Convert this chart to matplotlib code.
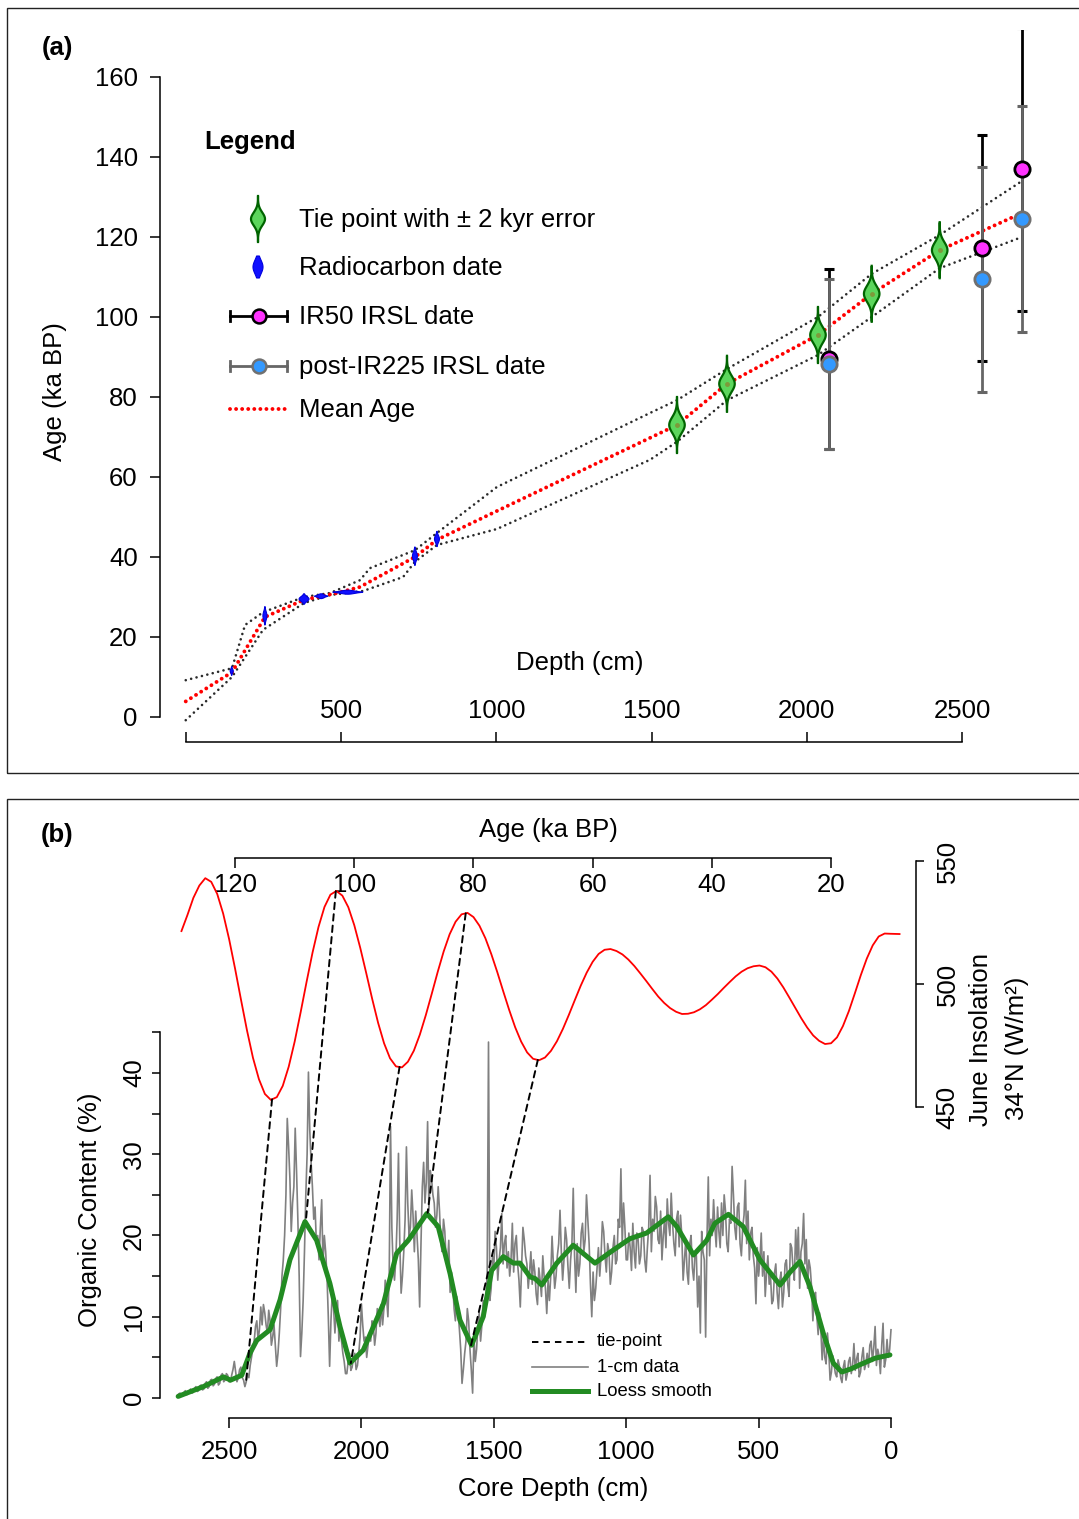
import numpy as np
import matplotlib
matplotlib.use("Agg")
import matplotlib.pyplot as plt
from matplotlib.patches import Polygon, Rectangle, ConnectionPatch
from matplotlib.lines import Line2D

plt.rcParams['font.family'] = ['Liberation Sans', 'DejaVu Sans']

W, H, DPI = 1079, 1519, 100
FS = 18.5

# ---------------- panel (a): age-depth model ----------------
mean_depth = [0, 149, 255, 381, 487, 561, 738, 809, 1002, 1582, 1743, 2036, 2209, 2428, 2693]
mean_age = [3.9, 11.2, 25.0, 29.3, 31.0, 32.5, 40.0, 44.3, 51.5, 73.0, 83.3, 95.5, 105.8, 116.7, 126.0]

upper_depth = [0, 149, 191, 249, 381, 465, 561, 593, 738, 809, 1002, 1495, 1582, 1743, 2036, 2209, 2428, 2693]
upper_age = [9.2, 12.2, 23.0, 26.2, 30.0, 31.0, 34.2, 37.2, 41.7, 46.0, 57.5, 76.0, 79.2, 87.0, 100.0, 110.8, 120.5, 134.0]

lower_depth = [0, 149, 249, 381, 465, 571, 700, 738, 809, 1002, 1495, 1582, 1743, 2036, 2209, 2428, 2693]
lower_age = [-0.8, 10.0, 21.8, 28.5, 30.5, 31.5, 35.0, 38.8, 43.0, 47.0, 64.3, 68.8, 79.2, 90.5, 100.0, 112.2, 120.0]

tie_depth = [1582, 1743, 2036, 2209, 2428]
tie_age = [73.0, 83.3, 95.5, 105.8, 116.7]
tie_sigma = 2.0

c14_depth = [148, 255, 381, 436, 522, 738, 809]
c14_age = [11.5, 25.3, 29.5, 30.2, 31.2, 40.2, 44.5]
c14_age_spread = [1.1, 2.3, 1.3, 0.6, 0.5, 2.3, 1.9]
c14_depth_spread = [5, 6.5, 16, 21, 48, 8, 8]

irsl_depth = [2071, 2564, 2693]
ir50_age = [89.5, 117.3, 136.9]
ir50_err = [22.5, 28.3, 35.3]
pir225_age = [88.2, 109.4, 124.5]
pir225_err = [21.3, 28.2, 28.2]

age_ticks = [0, 20, 40, 60, 80, 100, 120, 140, 160]
depth_ticks = [0, 500, 1000, 1500, 2000, 2500]
depth_ticklabels = ['', '500', '1000', '1500', '2000', '2500']

# ---------------- panel (b): organic content and insolation ----------------
gray_depth = np.arange(0, 2700, 5)
gray_val = [
    8.4, 6.0, 5.0, 7.2, 4.7, 3.8, 9.2, 6.5, 3.0, 5.2, 6.0, 4.0, 8.8, 6.2, 4.5, 7.0, 6.5, 3.8, 5.5, 4.2,
    3.5, 6.2, 5.0, 3.2, 2.6, 5.5, 4.8, 3.4, 6.7, 4.0, 3.0, 5.0, 4.5, 3.0, 2.2, 4.6, 3.8, 1.9, 2.5, 4.0,
    4.7, 2.6, 3.0, 4.1, 5.2, 3.2, 2.2, 5.8, 8.0, 4.2, 5.0, 7.5, 4.7, 8.5, 10.5, 7.8, 10.0, 13.0, 12.5, 9.5,
    13.7, 16.0, 17.0, 13.5, 19.5, 16.5, 22.7, 19.0, 18.0, 13.5, 21.0, 17.0, 20.7, 14.5, 16.0, 18.5, 19.0, 12.5, 14.0, 17.0,
    16.5, 13.0, 11.2, 15.5, 14.5, 11.0, 13.0, 16.5, 15.4, 12.0, 11.6, 15.0, 14.0, 17.5, 15.4, 12.5, 18.0, 15.0, 20.3, 17.0,
    15.0, 18.5, 11.6, 16.0, 17.5, 21.0, 20.3, 17.0, 23.0, 19.0, 26.8, 22.5, 21.0, 17.5, 19.0, 24.0, 23.5, 19.5, 21.0, 25.0,
    28.5, 21.5, 22.0, 18.0, 19.0, 23.0, 25.0, 20.0, 24.0, 18.5, 20.5, 23.5, 18.6, 21.0, 24.4, 20.0, 22.0, 17.5, 27.2, 19.5,
    7.5, 17.0, 18.0, 20.5, 8.0, 15.0, 11.2, 17.5, 18.0, 14.5, 16.0, 20.0, 19.0, 14.0, 15.5, 19.5, 17.0, 14.5, 20.0, 22.5,
    18.6, 23.0, 22.0, 17.5, 19.0, 21.5, 25.2, 20.0, 21.5, 24.5, 18.5, 22.0, 20.0, 17.0, 23.0, 19.0, 19.5, 23.5, 24.8, 20.5,
    22.0, 18.0, 27.4, 21.0, 18.5, 15.5, 17.0, 20.5, 21.0, 17.5, 16.5, 19.5, 20.3, 16.0, 18.0, 21.5, 15.7, 18.5, 20.3, 17.0,
    17.0, 21.0, 24.0, 19.0, 28.2, 21.0, 22.0, 17.0, 16.5, 20.0, 18.5, 15.5, 14.0, 18.0, 19.0, 15.5, 17.5, 20.5, 21.7, 17.5,
    15.0, 18.5, 16.0, 13.5, 12.0, 15.5, 10.0, 14.0, 19.0, 22.0, 25.0, 19.5, 18.0, 21.5, 20.3, 16.5, 15.0, 19.0, 13.0, 17.5,
    25.8, 19.0, 17.0, 13.5, 16.2, 19.5, 21.0, 17.0, 14.5, 18.0, 23.1, 19.0, 17.5, 15.0, 13.5, 16.5, 19.9, 15.0, 12.0, 14.5,
    10.4, 13.5, 15.0, 17.5, 12.5, 14.5, 16.0, 11.5, 12.8, 15.5, 17.0, 14.0, 18.0, 15.5, 13.5, 16.5, 17.5, 19.5, 21.0, 16.0,
    11.2, 14.5, 16.5, 20.0, 19.0, 15.5, 21.5, 17.0, 15.0, 18.0, 16.0, 20.0, 19.0, 16.5, 22.7, 18.5, 17.0, 14.5, 18.5, 20.5,
    16.0, 17.5, 13.5, 12.0, 43.8, 15.0, 12.5, 10.0, 12.0, 9.0, 7.0, 10.5, 9.0, 6.0, 4.5, 7.5, 0.6, 3.5, 6.0, 9.5,
    11.0, 7.0, 5.5, 3.5, 1.8, 6.0, 8.5, 10.5, 12.5, 9.5, 11.0, 14.0, 15.5, 13.0, 19.4, 16.5, 17.0, 20.5, 22.0, 18.0,
    19.0, 23.0, 26.0, 22.5, 21.0, 24.0, 25.0, 27.0, 28.0, 23.0, 34.0, 26.5, 24.0, 29.0, 26.0, 19.0, 11.2, 17.0, 20.0, 23.0,
    18.0, 22.5, 25.6, 21.0, 20.0, 24.0, 30.9, 22.0, 18.0, 15.0, 12.9, 19.0, 30.1, 22.0, 17.0, 14.5, 16.0, 21.0, 33.4, 15.0,
    10.0, 12.5, 14.5, 11.0, 9.0, 11.5, 8.8, 10.0, 11.0, 8.0, 6.5, 9.0, 9.5, 7.0, 8.0, 6.5, 5.0, 7.5, 7.0, 9.0,
    11.6, 7.5, 5.5, 4.0, 3.5, 5.5, 5.0, 3.8, 3.4, 5.5, 4.5, 3.0, 3.0, 4.5, 5.5, 7.0, 9.0, 7.0, 12.0, 10.5,
    8.0, 11.0, 13.0, 9.5, 3.9, 10.0, 15.0, 18.0, 20.0, 16.5, 24.4, 21.0, 17.0, 20.0, 19.0, 23.5, 22.0, 26.0, 29.0, 33.0,
    40.1, 30.0, 25.0, 18.0, 12.0, 8.0, 5.1, 15.0, 22.0, 28.0, 33.2, 26.0, 24.0, 20.5, 27.0, 31.0, 34.4, 25.0, 20.0, 17.0,
    15.0, 11.0, 8.0, 5.5, 3.9, 6.5, 9.0, 7.5, 6.5, 9.5, 10.8, 8.0, 9.0, 10.5, 11.5, 9.0, 11.2, 8.5, 7.0, 9.5,
    8.8, 7.0, 6.0, 5.0, 4.0, 2.5, 3.0, 2.0, 1.4, 2.2, 2.5, 3.8, 3.5, 2.5, 2.0, 3.2, 4.5, 3.5, 2.8, 2.0,
    2.0, 2.8, 3.0, 2.2, 2.0, 3.0, 2.8, 1.8, 1.6, 2.6, 2.4, 1.7, 1.5, 2.3, 2.2, 1.4, 1.2, 2.0, 1.8, 1.1,
    1.0, 1.6, 1.5, 0.9, 0.8, 1.4, 1.2, 0.7, 0.6, 1.1, 0.9, 0.5, 0.4, 0.9, 0.7, 0.3, 0.3, 0.6, 0.5, 0.2,
]

loess_depth = [4, 60, 117, 150, 186, 218, 256, 306, 344, 381, 419, 495, 558, 614, 665, 696,
               746, 809, 841, 923, 986, 1049, 1118, 1200, 1262, 1319, 1344, 1363, 1401, 1426,
               1464, 1508, 1540, 1584, 1628, 1665, 1710, 1753, 1823, 1867, 1917, 1993, 2043,
               2081, 2119, 2169, 2213, 2270, 2307, 2345, 2395, 2421, 2452, 2494, 2521, 2597, 2692]
loess_val = [5.3, 4.9, 4.1, 3.6, 3.2, 4.3, 8.0, 13.7, 16.8, 15.5, 13.9, 17.0, 21.1, 22.6, 21.5, 19.4,
             17.6, 21.1, 22.3, 20.3, 19.6, 18.2, 16.6, 18.8, 16.6, 13.9, 14.7, 14.9, 16.6, 16.6,
             17.4, 15.7, 10.0, 6.5, 9.6, 15.3, 21.1, 22.7, 19.4, 17.8, 11.6, 5.9, 4.3,
             8.8, 14.1, 19.4, 21.7, 17.0, 12.1, 8.4, 7.1, 5.5, 2.8, 2.2, 2.6, 1.4, 0.2]

ins_age = [8.5, 10, 11, 12, 13, 14, 15, 16, 17, 18, 19, 20, 21, 22, 23, 24, 25, 26, 27, 28, 29,
           30, 31, 32, 33, 34, 35, 36, 37, 38, 39, 40, 41, 42, 43, 44, 45, 46, 47, 48, 49, 50,
           51, 52, 53, 54, 55, 56, 57, 58, 59, 60, 61, 62, 63, 64, 65, 66, 67, 68, 69, 70, 71,
           72, 73, 74, 75, 76, 77, 78, 79, 80, 81, 82, 83, 84, 85, 86, 87, 88, 89, 90, 91, 92,
           93, 94, 95, 96, 97, 98, 99, 100, 101, 102, 103, 104, 105, 106, 107, 108, 109, 110,
           111, 112, 113, 114, 115, 116, 117, 118, 119, 120, 121, 122, 123, 124, 125, 126, 127,
           128, 129]
ins_val = [520.3, 520.4, 520.5, 519.3, 515.7, 510.3, 503.6, 496.2, 489.0, 482.9, 478.3, 475.9,
           475.6, 476.9, 479.1, 482.3, 486.1, 490.3, 494.5, 498.6, 502.2, 505.0, 506.8, 507.5,
           507.2, 506.4, 505.0, 503.1, 500.8, 498.4, 495.9, 493.6, 491.4, 489.7, 488.5, 487.9,
           487.8, 488.7, 490.2, 492.3, 494.9, 498.0, 501.2, 504.3, 507.3, 509.9, 512.0, 513.4,
           514.2, 513.9, 512.2, 509.0, 504.6, 499.3, 493.4, 487.4, 481.7, 476.7, 472.8, 470.1,
           469.0, 469.6, 472.2, 476.6, 482.4, 489.4, 497.0, 504.8, 512.1, 518.6, 523.7, 527.2,
           528.9, 528.3, 525.3, 520.2, 513.2, 504.9, 496.0, 487.3, 479.4, 472.9, 468.4, 466.1,
           466.5, 469.8, 475.9, 484.2, 494.0, 504.5, 514.7, 523.9, 531.2, 535.9, 537.8, 536.3,
           531.3, 523.2, 512.8, 500.9, 488.5, 476.6, 466.4, 458.6, 454.0, 452.9, 455.3, 461.3,
           470.0, 481.1, 493.5, 506.2, 518.2, 528.6, 536.6, 541.5, 543.0, 540.0, 535.0, 528.0,
           521.5]

tp_age = [113.8, 103.1, 92.4, 81.3, 69.2]
tp_depth = [2436, 2210, 2040, 1750, 1586]
tp_organic = [1.85, 21.7, 4.3, 22.8, 6.5]

top_age_ticks = [20, 40, 60, 80, 100, 120]
ins_ticks = [450, 500, 550]
org_ticks = [0, 5, 10, 15, 20, 25, 30, 35, 40, 45]
org_ticklabels = ['0', '', '10', '', '20', '', '30', '', '40', '']
core_ticks = [0, 500, 1000, 1500, 2000, 2500]

# ---------------- helpers ----------------
fig = plt.figure(figsize=(W / DPI, H / DPI), dpi=DPI)


def fx(px):
    return np.asarray(px, dtype=float) / W


def fy(py):
    return 1 - np.asarray(py, dtype=float) / H


def box(x0, x1, y_top, y_bot):
    return [x0 / W, 1 - y_bot / H, (x1 - x0) / W, (y_bot - y_top) / H]


def violin(xc, yc, half_w, half_h, vertical=True, sharp=3.5, n=80):
    t = np.linspace(-1, 1, n)
    prof = np.exp(-0.5 * (sharp * t) ** 2)
    if vertical:
        xs = np.concatenate([xc + half_w * prof, (xc - half_w * prof)[::-1]])
        ys = np.concatenate([yc + half_h * t, (yc + half_h * t)[::-1]])
    else:
        xs = np.concatenate([xc + half_w * t, (xc + half_w * t)[::-1]])
        ys = np.concatenate([yc + half_h * prof, (yc - half_h * prof)[::-1]])
    return np.column_stack([xs, ys])


def fig_line(xs, ys, **kw):
    fig.add_artist(Line2D(fx(xs), fy(ys), transform=fig.transFigure, **kw))


def fig_text(x, y, s, **kw):
    fig.text(fx(x), fy(y), s, **kw)


# panel frames
for (y0, y1) in [(8, 773), (799, 1530)]:
    fig.add_artist(Rectangle((fx(7), fy(y1)), fx(1090) - fx(7), fy(y0) - fy(y1),
                             transform=fig.transFigure, fill=False, lw=1.0,
                             edgecolor='#222222', clip_on=False))

MEAN_STYLE = dict(color='#FF0000', lw=2.8, linestyle=(0, (0.01, 1.55)), dash_capstyle='round')
ENV_STYLE = dict(color='#2A2A2A', lw=1.9, linestyle=(0, (0.01, 2.1)), dash_capstyle='round')

# ================= panel (a) =================
ax = fig.add_axes(box(160, 1040, 30, 742))
ax.set_xlim(-82.9, 2751)
ax.set_ylim(-6.25, 171.75)
ax.patch.set_visible(False)
for s in ['top', 'right']:
    ax.spines[s].set_visible(False)
ax.spines['left'].set_bounds(0, 160)
ax.spines['bottom'].set_bounds(0, 2500)
for s in ['left', 'bottom']:
    ax.spines[s].set_linewidth(1.1)
ax.set_yticks(age_ticks)
ax.set_xticks(depth_ticks)
ax.set_xticklabels(depth_ticklabels)
ax.tick_params(axis='y', direction='out', length=7, width=1.1, pad=9, labelsize=FS)
ax.tick_params(axis='x', direction='in', length=7, width=1.1, pad=-31, labelsize=FS)

ax.plot(upper_depth, upper_age, zorder=2, **ENV_STYLE)
ax.plot(lower_depth, lower_age, zorder=2, **ENV_STYLE)
ax.plot(mean_depth, mean_age, zorder=3, **MEAN_STYLE)

for d, a in zip(tie_depth, tie_age):
    ax.add_patch(Polygon(violin(d, a, 25, 3.5 * tie_sigma), closed=True,
                         facecolor='#5CD65C', edgecolor='#006400', lw=1.6, zorder=4))
ax.plot(tie_depth, tie_age, 'o', ms=2.5, color='#7E9A3A', zorder=4.5)

for d, a, sa, sd in zip(c14_depth, c14_age, c14_age_spread, c14_depth_spread):
    vert = sa * 4.0 >= sd * 0.3105
    ax.add_patch(Polygon(violin(d, a, sd, sa, vertical=vert, sharp=2.2), closed=True,
                         facecolor='#1010FF', edgecolor='#0000DD', lw=0.8, zorder=4))

ax.errorbar(irsl_depth, ir50_age, yerr=ir50_err, fmt='none', ecolor='black',
            elinewidth=2.0, capsize=3.5, capthick=2.2, zorder=5)
ax.errorbar(irsl_depth, pir225_age, yerr=pir225_err, fmt='none', ecolor='#666666',
            elinewidth=2.0, capsize=3.5, capthick=2.2, zorder=5.5)
ax.plot(irsl_depth, ir50_age, 'o', ms=11, mfc='#FF33FF', mec='black', mew=2.0, zorder=6)
ax.plot(irsl_depth, pir225_age, 'o', ms=11, mfc='#3399FF', mec='#707070', mew=2.0, zorder=6.5)

fig_text(57, 48, '(a)', fontsize=FS, fontweight='bold', ha='center', va='center')
fig_text(55, 392, 'Age (ka BP)', fontsize=FS, rotation=90, ha='center', va='center')
fig_text(580, 663, 'Depth (cm)', fontsize=FS, ha='center', va='center')

# legend of panel (a)
fig_text(204, 142, 'Legend', fontsize=FS, fontweight='bold', ha='left', va='center')
leg_y = [219, 267, 316, 366, 409]
leg_labels = ['Tie point with \u00b1 2 kyr error', 'Radiocarbon date', 'IR50 IRSL date',
              'post-IR225 IRSL date', 'Mean Age']
for yy, lab in zip(leg_y, leg_labels):
    fig_text(299, yy + 1, lab, fontsize=FS, ha='left', va='center')

v = violin(258, leg_y[0], 7, 23)
fig.add_artist(Polygon(np.column_stack([fx(v[:, 0]), fy(v[:, 1])]), closed=True,
                       transform=fig.transFigure, facecolor='#5CD65C',
                       edgecolor='#006400', lw=1.6))
r = violin(258, leg_y[1], 5, 11, sharp=1.6)
fig.add_artist(Polygon(np.column_stack([fx(r[:, 0]), fy(r[:, 1])]), closed=True,
                       transform=fig.transFigure, facecolor='#1010FF',
                       edgecolor='#0000DD', lw=0.8))
for yy, ec, fc, mec in [(leg_y[2], 'black', '#FF33FF', 'black'),
                        (leg_y[3], '#666666', '#3399FF', '#707070')]:
    fig_line([230, 287], [yy, yy], color=ec, lw=2.0)
    fig_line([230, 230], [yy - 5, yy + 5], color=ec, lw=2.0)
    fig_line([287, 287], [yy - 5, yy + 5], color=ec, lw=2.0)
    fig_line([259], [yy], marker='o', ms=10, mfc=fc, mec=mec, mew=1.8, linestyle='none')
fig_line([230, 288], [leg_y[4], leg_y[4]], **MEAN_STYLE)

# ================= panel (b) =================
ax_org = fig.add_axes(box(160, 905, 1025, 1418))
ax_org.set_xlim(2760.6, -52.9)
ax_org.set_ylim(-2.46, 45.9)
ax_org.patch.set_visible(False)
for s in ['top', 'right']:
    ax_org.spines[s].set_visible(False)
ax_org.spines['left'].set_bounds(0, 45)
ax_org.spines['bottom'].set_bounds(0, 2500)
for s in ['left', 'bottom']:
    ax_org.spines[s].set_linewidth(1.1)
ax_org.set_xticks(core_ticks)
ax_org.set_yticks(org_ticks)
ax_org.set_yticklabels(org_ticklabels, rotation=90, va='center')
ax_org.tick_params(axis='x', direction='out', length=7, width=1.1, pad=9, labelsize=FS)
ax_org.tick_params(axis='y', direction='out', length=6, width=1.1, pad=4, labelsize=FS)

ax_org.plot(gray_depth, gray_val, color='#808080', lw=1.2, zorder=2)
ax_org.plot(loess_depth, loess_val, color='#228B22', lw=3.6, zorder=3,
            solid_capstyle='round', solid_joinstyle='round')

ax_ins = fig.add_axes(box(160, 916, 858, 1107))
ax_ins.set_xlim(132.6, 5.74)
ax_ins.set_ylim(450, 551.2)
ax_ins.patch.set_visible(False)
for s in ['left', 'bottom']:
    ax_ins.spines[s].set_visible(False)
ax_ins.spines['top'].set_bounds(20, 120)
ax_ins.spines['right'].set_bounds(450, 550)
for s in ['top', 'right']:
    ax_ins.spines[s].set_linewidth(1.1)
ax_ins.xaxis.tick_top()
ax_ins.yaxis.tick_right()
ax_ins.set_xticks(top_age_ticks)
ax_ins.set_yticks(ins_ticks)
ax_ins.set_yticklabels([str(t) for t in ins_ticks], rotation=90, va='center')
ax_ins.tick_params(axis='x', direction='in', length=7, width=1.1, pad=-28, labelsize=FS)
ax_ins.tick_params(axis='y', direction='out', length=6, width=1.1, pad=8, labelsize=FS)
ax_ins.plot(ins_age, ins_val, color='#FF0000', lw=1.3, clip_on=False)

tp_insol = np.interp(tp_age, ins_age, ins_val)
for a, i, d, o in zip(tp_age, tp_insol, tp_depth, tp_organic):
    fig.add_artist(ConnectionPatch(xyA=(a, i), coordsA=ax_ins.transData,
                                   xyB=(d, o), coordsB=ax_org.transData,
                                   color='black', lw=1.4, linestyle=(0, (3.3, 2.6))))

fig_text(57, 835, '(b)', fontsize=FS, fontweight='bold', ha='center', va='center')
fig_text(548, 830, 'Age (ka BP)', fontsize=FS, ha='center', va='center')
fig_text(553, 1489, 'Core Depth (cm)', fontsize=FS, ha='center', va='center')
fig_text(90, 1210, 'Organic Content (%)', fontsize=FS, rotation=90, ha='center', va='center')
fig_text(981, 1040, 'June Insolation', fontsize=FS, rotation=90, ha='center', va='center')
fig_text(1017, 1048, '34\u00b0N (W/m\u00b2)', fontsize=FS, rotation=90, ha='center', va='center')

# legend of panel (b)
fig_line([532, 588], [1342, 1342], color='black', lw=1.4, linestyle=(0, (3.3, 2.6)))
fig_line([532, 588], [1367, 1367], color='#808080', lw=1.2)
fig_line([532, 588], [1391, 1391], color='#228B22', lw=3.6)
for yy, lab in zip([1342, 1367, 1391], ['tie-point', '1-cm data', 'Loess smooth']):
    fig_text(597, yy, lab, fontsize=13.3, ha='left', va='center')

fig.savefig('out.png', dpi=DPI)
